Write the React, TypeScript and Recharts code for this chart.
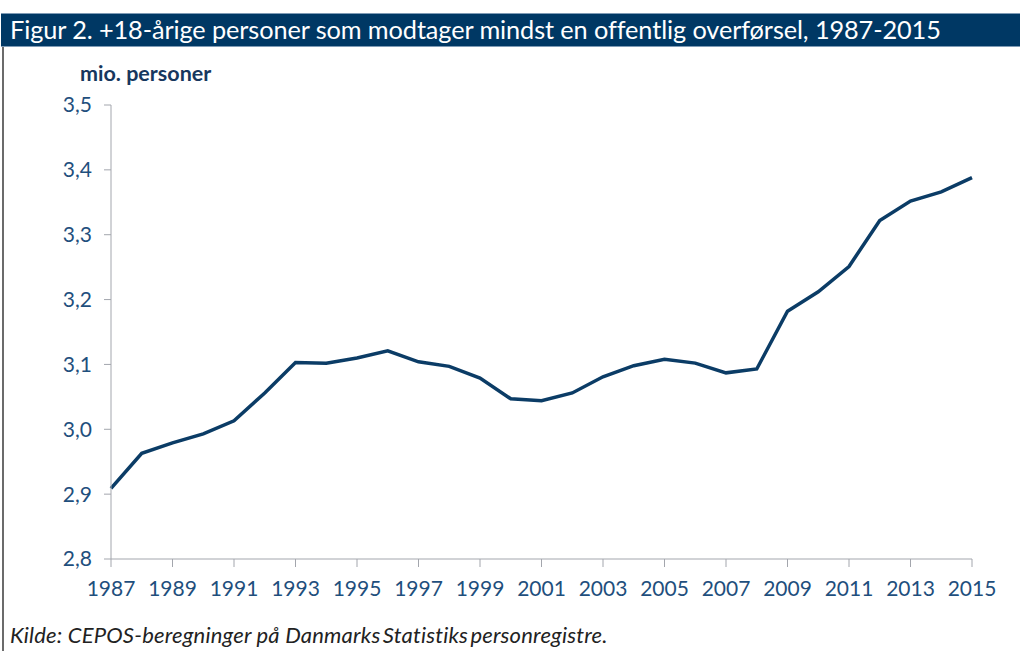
import React from 'react';
import { LineChart, Line, XAxis, YAxis } from 'recharts';

const years = [1987, 1988, 1989, 1990, 1991, 1992, 1993, 1994, 1995, 1996, 1997, 1998, 1999, 2000, 2001, 2002, 2003, 2004, 2005, 2006, 2007, 2008, 2009, 2010, 2011, 2012, 2013, 2014, 2015];
const persons = [2.909, 2.963, 2.979, 2.993, 3.013, 3.056, 3.103, 3.102, 3.110, 3.121, 3.104, 3.097, 3.079, 3.047, 3.044, 3.056, 3.081, 3.098, 3.108, 3.102, 3.087, 3.093, 3.182, 3.212, 3.251, 3.322, 3.352, 3.366, 3.388];
const xTicks = [1987, 1989, 1991, 1993, 1995, 1997, 1999, 2001, 2003, 2005, 2007, 2009, 2011, 2013, 2015];
const yTicks = [2.8, 2.9, 3.0, 3.1, 3.2, 3.3, 3.4, 3.5];

const data = years.map((y, i) => ({ year: y, value: persons[i] }));

const tickColor = '#1f4f7d';
const axisColor = '#a3a6ad';

export default function App() {
  return (
    <div style={{ position: 'absolute', left: 0, top: 0, width: 1020, height: 651, background: '#fff', fontFamily: 'Lato, sans-serif' }}>
      <div style={{ position: 'absolute', left: 1, top: 13, width: 1019, height: 34, background: '#003864', borderTop: '1px solid #7f9bb5', borderBottom: '1px solid #7f9bb5', boxSizing: 'border-box' }} />
      <div style={{ position: 'absolute', left: 10, top: 13, height: 34, lineHeight: '33px', color: '#fff', fontSize: 25.3, whiteSpace: 'nowrap', letterSpacing: -0.1 }}>
        Figur 2. +18-årige personer som modtager mindst en offentlig overførsel, 1987-2015
      </div>
      <div style={{ position: 'absolute', left: 2, top: 47, width: 2, height: 604, background: '#6b6b6b' }} />
      <div style={{ position: 'absolute', left: 80, top: 60, color: '#17375e', fontSize: 21.5, fontWeight: 'bold', whiteSpace: 'nowrap' }}>
        mio. personer
      </div>
      <div style={{ position: 'absolute', left: 10, top: 621, color: '#222', fontSize: 22, fontStyle: 'italic', whiteSpace: 'nowrap', letterSpacing: 0.2 }}>
        Kilde: CEPOS-beregninger på <span style={{ wordSpacing: -3 }}>Danmarks Statistiks personregistre.</span>
      </div>
      <div style={{ position: 'absolute', left: 0, top: 0 }}>
        <LineChart width={1020} height={651} data={data} margin={{ top: 105, right: 48, bottom: 52, left: 51 }}>
          <XAxis
            dataKey="year"
            type="number"
            domain={[1987, 2015]}
            ticks={xTicks}
            interval={0}
            height={40}
            tickSize={8}
            stroke={axisColor}
            tickLine={{ stroke: axisColor }}
            tick={{ fill: tickColor, fontSize: 21, fontFamily: 'Lato, sans-serif' }}
            tickMargin={14}
          />
          <YAxis
            type="number"
            domain={[2.8, 3.5]}
            ticks={yTicks}
            interval={0}
            width={60}
            tickSize={7}
            stroke={axisColor}
            tickLine={{ stroke: axisColor }}
            tick={{ fill: tickColor, fontSize: 21, fontFamily: 'Lato, sans-serif' }}
            tickFormatter={(v: number) => v.toFixed(1).replace('.', ',')}
            tickMargin={12}
          />
          <Line type="linear" dataKey="value" stroke="#0b3c66" strokeWidth={3.5} dot={false} isAnimationActive={false} />
        </LineChart>
      </div>
    </div>
  );
}
